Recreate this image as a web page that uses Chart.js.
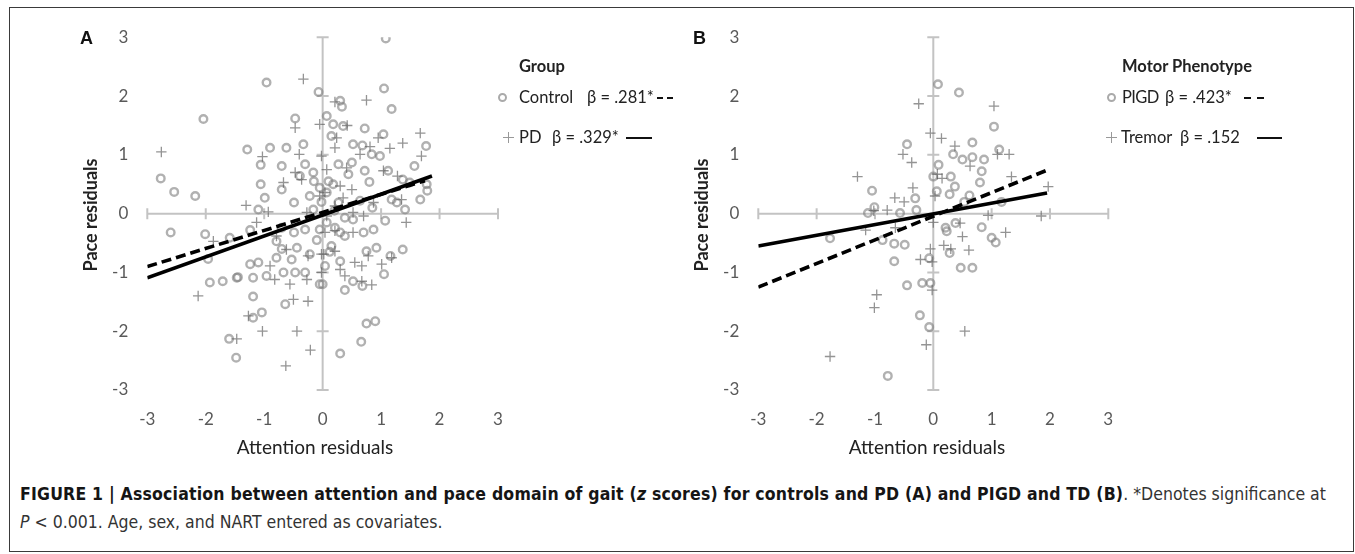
<!DOCTYPE html>
<html>
<head>
<meta charset="utf-8">
<script src="https://cdn.jsdelivr.net/npm/chart.js"></script>
<style>
  body { margin: 0; width: 1355px; height: 554px; position: relative; overflow: hidden; background: #fff; font-family: Lato, "Open Sans", sans-serif; }
  #frame { position: absolute; left: 9px; top: 7px; width: 1343px; height: 543px; border: 1px solid #3a3a3a; }
  canvas { position: absolute; top: 0; }
  .tag { position: absolute; font: bold 18px "Liberation Sans", Arial, sans-serif; color: #111; line-height: 20px; }
  .ytitle { position: absolute; font-size: 18px; font-weight: bold; color: #222; white-space: nowrap; transform: translate(-50%, -50%) rotate(-90deg); }
  .xtitle { position: absolute; font-size: 19px; color: #222; white-space: nowrap; transform: translateX(-50%); line-height: 22px; }
  .leg { position: absolute; font-size: 16.5px; color: #222; white-space: nowrap; line-height: 20px; }
  .leg b { font-weight: bold; }
  .mk-o { position: absolute; width: 5px; height: 5px; border: 2px solid #aaa; border-radius: 50%; }
  .mk-p { position: absolute; width: 11px; height: 11px; }
  .mk-p:before { content: ""; position: absolute; left: 0; top: 5px; width: 11px; height: 1px; background: #999; }
  .mk-p:after { content: ""; position: absolute; left: 5px; top: 0; width: 1px; height: 11px; background: #999; }
  .dash { position: absolute; height: 2px; background: #111; }
  .cap { position: absolute; left: 20px; font-family: "Liberation Sans Narrow", "Arial Narrow", "DejaVu Sans Condensed", sans-serif; font-size: 17.5px; color: #333; white-space: nowrap; line-height: 22px; }
  .cap b { color: #151515; letter-spacing: 0.2px; }
</style>
</head>
<body>
<div id="frame"></div>
<canvas id="chartA" width="677" height="470" style="left:0"></canvas>
<canvas id="chartB" width="678" height="470" style="left:677px"></canvas>

<div class="tag" style="left:80px;top:28px">A</div>
<div class="tag" style="left:693px;top:28px">B</div>
<div class="ytitle" style="left:90px;top:215px">Pace residuals</div>
<div class="ytitle" style="left:701px;top:215px">Pace residuals</div>
<div class="xtitle" style="left:315px;top:436px">Attention residuals</div>
<div class="xtitle" style="left:927px;top:436px">Attention residuals</div>

<!-- legend A -->
<div class="leg" style="left:519px;top:56px"><b>Group</b></div>
<span class="mk-o" style="left:498px;top:93px"></span>
<div class="leg" style="left:519px;top:87px">Control</div>
<div class="leg" style="left:587px;top:87px">β = .281*</div>
<span class="dash" style="left:657px;top:97px;width:6px"></span>
<span class="dash" style="left:667px;top:97px;width:6px"></span>
<span class="mk-p" style="left:503px;top:132px"></span>
<div class="leg" style="left:519px;top:127px">PD</div>
<div class="leg" style="left:552px;top:127px">β = .329*</div>
<span class="dash" style="left:626px;top:137px;width:26px"></span>

<!-- legend B -->
<div class="leg" style="left:1122px;top:56px"><b>Motor Phenotype</b></div>
<span class="mk-o" style="left:1107px;top:93px"></span>
<div class="leg" style="left:1122px;top:87px;letter-spacing:-0.6px">PIGD</div>
<div class="leg" style="left:1165px;top:87px">β = .423*</div>
<span class="dash" style="left:1244px;top:97px;width:7px"></span>
<span class="dash" style="left:1257px;top:97px;width:7px"></span>
<span class="mk-p" style="left:1106px;top:132px"></span>
<div class="leg" style="left:1121px;top:127px">Tremor</div>
<div class="leg" style="left:1180px;top:127px">β = .152</div>
<span class="dash" style="left:1257px;top:137px;width:25px"></span>

<div class="cap" style="top:483px"><b>FIGURE 1 | Association between attention and pace domain of gait (<i>z</i> scores) for controls and PD (A) and PIGD and TD (B)</b>. *Denotes significance at</div>
<div class="cap" style="top:511px"><i>P</i> &lt; 0.001. Age, sex, and NART entered as covariates.</div>

<script>
// tick values shared by both panels
const xTicks = [-3, -2, -1, 0, 1, 2, 3];
const yTicks = [-3, -2, -1, 0, 1, 2, 3];

// panel A: controls (circles) and PD (crosses), [attention, pace]
const control = [
  [-0.96,2.23],[-2.04,1.61],[-0.07,2.07],[-0.47,1.62],[-1.29,1.09],[-0.90,1.12],[-0.62,1.12],[-0.33,1.18],
  [-1.06,0.83],[-0.70,0.81],[-0.30,0.84],[-0.16,0.70],[-2.77,0.60],[-2.54,0.37],[-2.18,0.30],[-1.06,0.50],
  [-0.99,0.27],[-0.70,0.41],[-0.49,0.19],[-0.22,0.30],[-0.05,0.44],[-1.10,0.07],[-2.60,-0.32],[-2.01,-0.35],
  [-1.59,-0.41],[-1.24,-0.28],[-0.70,-0.24],[-0.49,-0.32],[-0.30,-0.27],[-1.96,-0.77],[-0.79,-0.47],[-0.70,-0.60],
  [-0.44,-0.58],[-0.79,-0.75],[-0.53,-0.78],[-0.22,-0.69],[-1.24,-0.86],[-1.10,-0.83],[-1.93,-1.17],[-1.71,-1.15],
  [-1.47,-1.09],[-1.45,-1.08],[-1.19,-1.09],[-0.96,-1.06],[-0.67,-1.00],[-0.47,-1.00],[-0.30,-1.00],[-0.05,-1.20],
  [-1.19,-1.41],[-0.64,-1.54],[-1.04,-1.68],[-1.19,-1.77],[-1.60,-2.13],[-1.48,-2.45],[-0.39,0.64],[-0.16,0.07],
  [-0.02,0.20],[-0.05,-0.27],[-0.15,0.55],[-0.10,-0.45],
  [1.08,2.98],[1.05,2.13],[1.18,1.78],[0.30,1.92],[0.33,1.82],[0.07,1.66],[0.18,1.52],[0.35,1.49],
  [0.15,1.32],[0.72,1.45],[1.04,1.35],[1.77,1.15],[0.52,1.18],[0.68,1.16],[0.84,1.01],[0.98,0.98],
  [0.27,0.84],[0.50,0.87],[0.72,0.73],[1.12,0.73],[1.57,0.81],[0.44,0.67],[0.80,0.54],[0.18,0.50],
  [1.37,0.58],[1.49,0.53],[1.78,0.50],[1.67,0.24],[1.79,0.39],[1.18,0.24],[1.27,0.19],[1.41,0.07],
  [1.07,-0.12],[0.87,-0.27],[0.38,-0.07],[0.21,-0.24],[0.38,-0.38],[0.15,-0.55],[0.75,-0.64],[0.92,-0.58],
  [1.37,-0.61],[1.16,-0.72],[0.30,-0.81],[0.04,-0.89],[0.52,-1.15],[0.68,-1.23],[0.38,-1.30],[1.05,-1.03],
  [0.75,-1.87],[0.90,-1.83],[0.66,-2.18],[0.30,-2.38],[0.00,-1.20],[0.64,0.22],[0.85,0.10],[0.52,-0.10],
  [0.70,-0.32],[0.07,0.36],[0.27,0.19],[0.07,-0.15],[0.30,-0.32],[0.10,0.55],[0.20,0.05],[0.12,-0.65]
];
const pd = [
  [-0.33,2.29],[-2.76,1.05],[-0.47,1.46],[-1.03,0.97],[-0.40,1.01],[-0.02,0.98],[-0.47,0.70],[-0.36,0.58],
  [-0.67,0.53],[-1.31,0.14],[-0.93,0.03],[-1.13,-0.15],[-1.87,-0.47],[-0.05,0.30],[0.04,0.36],[-0.27,0.02],
  [-0.79,-0.38],[-0.62,-0.61],[-0.25,-0.72],[-0.02,-0.69],[-2.13,-1.40],[-0.90,-0.89],[-0.82,-1.12],[-0.56,-1.20],
  [-0.27,-1.12],[-0.50,-1.46],[-0.25,-1.49],[-1.27,-1.74],[-1.03,-2.00],[-0.44,-2.00],[-1.47,-2.13],[-0.21,-2.32],
  [-0.63,-2.59],[-0.02,-1.00],[-0.05,1.52],
  [0.75,1.93],[0.21,1.90],[0.42,1.50],[1.67,1.37],[1.37,1.20],[1.15,1.11],[0.95,1.29],[0.64,1.01],
  [0.81,1.14],[1.69,0.98],[0.21,1.12],[0.24,1.29],[0.07,0.75],[0.41,0.78],[1.04,0.73],[1.28,0.64],
  [0.30,0.47],[0.50,0.41],[1.35,0.24],[0.87,0.19],[0.52,0.02],[0.70,-0.04],[1.43,-0.15],[0.04,-0.32],
  [0.21,-0.29],[0.52,-0.32],[0.02,-0.69],[0.21,-0.64],[0.55,-0.83],[0.67,-0.89],[1.01,-0.86],[1.18,-0.75],
  [0.78,-0.72],[0.30,-0.95],[0.38,-1.06],[0.67,-1.15],[0.84,-1.21],[0.07,-0.04],[0.35,0.27],[0.21,0.13]
];
// fitted lines, panel A (endpoints)
const controlFitX = [-3, 1.75], controlFitY = [-0.90, 0.56];
const pdFitX = [-3, 1.87], pdFitY = [-1.09, 0.64];

// panel B: PIGD (circles) and tremor (crosses)
const pigd = [
  [0.08,2.20],[0.44,2.06],[1.04,1.48],[-0.45,1.18],[0.67,1.21],[1.13,1.09],[0.34,1.01],[0.50,0.92],
  [0.67,0.96],[0.87,0.92],[0.09,0.83],[0.83,0.72],[0.00,0.63],[0.30,0.63],[0.80,0.53],[0.37,0.46],
  [-1.05,0.39],[0.06,0.38],[0.28,0.33],[0.62,0.31],[-0.31,0.26],[0.53,0.20],[-1.01,0.11],[-0.29,0.06],
  [-1.12,0.01],[-0.57,0.01],[1.17,0.20],[0.38,-0.16],[0.21,-0.24],[0.23,-0.30],[0.83,-0.23],[-1.77,-0.42],
  [-0.87,-0.45],[-0.67,-0.51],[-0.49,-0.53],[1.00,-0.41],[1.07,-0.49],[0.28,-0.67],[-0.67,-0.81],[-0.07,-0.76],
  [0.47,-0.92],[0.67,-0.92],[-0.45,-1.22],[-0.19,-1.18],[-0.05,-1.18],[-0.23,-1.73],[-0.07,-1.93],[-0.78,-2.76]
];
const tremor = [
  [-0.25,1.87],[1.04,1.83],[-0.05,1.37],[0.14,1.28],[0.37,1.15],[-0.52,1.01],[-0.37,0.87],[0.63,0.81],
  [1.10,1.01],[1.30,1.01],[-1.30,0.63],[0.07,0.67],[0.15,0.60],[1.34,0.63],[-0.35,0.44],[1.97,0.46],
  [-0.66,0.27],[-0.50,0.20],[0.03,0.30],[-0.79,0.06],[-1.02,0.05],[0.94,-0.03],[1.85,-0.04],[-1.16,-0.28],
  [-0.65,-0.24],[0.00,-0.15],[0.50,-0.39],[1.24,-0.32],[0.18,-0.54],[0.30,-0.60],[0.61,-0.62],[-0.05,-0.60],
  [-0.22,-0.78],[-0.02,-0.82],[-0.02,-1.30],[-0.97,-1.38],[-1.01,-1.60],[0.54,-2.00],[-0.12,-2.23],[-1.77,-2.43],
  [0.46,-0.16]
];
const pigdFitX = [-3, 1.95], pigdFitY = [-1.25, 0.74];
const tremorFitX = [-3, 1.95], tremorFitY = [-0.55, 0.35];

const toXY = arr => arr.map(p => ({ x: p[0], y: p[1] }));
const zipXY = (xs, ys) => xs.map((x, i) => ({ x: x, y: ys[i] }));

function circles(arr) {
  return { data: toXY(arr), pointStyle: 'circle', pointRadius: 3.8, borderWidth: 2.4,
    borderColor: 'rgba(125,125,125,0.6)', backgroundColor: 'rgba(0,0,0,0)', order: 2 };
}
function crosses(arr) {
  return { data: toXY(arr), pointStyle: 'cross', pointRadius: 5.2, borderWidth: 1.3,
    borderColor: 'rgba(90,90,90,0.65)', order: 1 };
}
function fit(xs, ys, dashed) {
  return { data: zipXY(xs, ys), showLine: true, pointRadius: 0, borderColor: '#000',
    borderWidth: 3.6, borderDash: dashed ? [10, 5] : [], order: 0 };
}

// crossing axes through (0,0) with tick marks
const crossAxes = {
  id: 'crossAxes',
  beforeDatasetsDraw(chart) {
    const { ctx, scales: { x, y } } = chart;
    const x0 = x.getPixelForValue(0), y0 = y.getPixelForValue(0);
    ctx.save();
    ctx.strokeStyle = '#c3c3c3';
    ctx.lineWidth = 2;
    ctx.beginPath();
    ctx.moveTo(x.left, y0); ctx.lineTo(x.right, y0);
    ctx.moveTo(x0, y.top); ctx.lineTo(x0, y.bottom);
    xTicks.forEach(v => { const px = x.getPixelForValue(v); ctx.moveTo(px, y0 - 5.5); ctx.lineTo(px, y0 + 5.5); });
    yTicks.forEach(v => { const py = y.getPixelForValue(v); ctx.moveTo(x0 - 6, py); ctx.lineTo(x0 + 6, py); });
    ctx.stroke();
    ctx.restore();
  }
};

const tickFont = { family: 'Lato', size: 17 };
function makeChart(id, datasets, pad) {
  return new Chart(document.getElementById(id), {
    type: 'scatter',
    data: { datasets: datasets },
    options: {
      responsive: false,
      animation: false,
      layout: { padding: pad },
      plugins: { legend: { display: false }, tooltip: { enabled: false } },
      scales: {
        x: {
          min: -3, max: 3,
          afterFit: s => { s.height = 50; },
          grid: { display: false, drawTicks: false },
          border: { display: false },
          ticks: { stepSize: 1, padding: 19, color: '#595959', font: tickFont, maxRotation: 0, autoSkip: false }
        },
        y: {
          min: -3, max: 3,
          afterFit: s => { s.width = 60; },
          grid: { display: false, drawTicks: false },
          border: { display: false },
          ticks: { stepSize: 1, padding: 19, color: '#595959', font: tickFont, autoSkip: false }
        }
      }
    },
    plugins: [crossAxes]
  });
}

makeChart('chartA', [
  fit(pdFitX, pdFitY, false), fit(controlFitX, controlFitY, true), crosses(pd), circles(control)
], { left: 87.3, right: 179, top: 37.3, bottom: 30 });

makeChart('chartB', [
  fit(tremorFitX, tremorFitY, false), fit(pigdFitX, pigdFitY, true), crosses(tremor), circles(pigd)
], { left: 21.3, right: 246.7, top: 37.3, bottom: 30 });
</script>
</body>
</html>
